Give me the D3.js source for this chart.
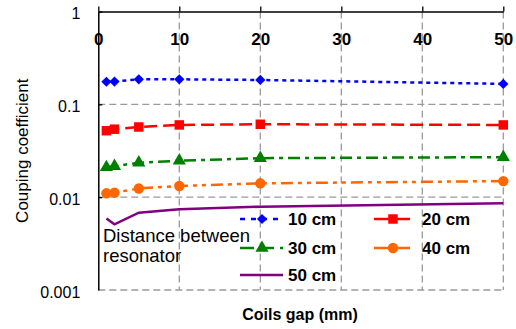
<!DOCTYPE html>
<html>
<head>
<meta charset="utf-8">
<script src="https://cdn.jsdelivr.net/npm/d3@7"></script>
<style>
  body { margin: 0; background: #fff; }
  text { font-family: "Liberation Sans", Arial, sans-serif; }
</style>
</head>
<body>
<div id="chart"></div>
<script>
// data
var gaps = [1, 2, 5, 10, 20, 50];
var k10 = [0.175, 0.176, 0.186, 0.186, 0.183, 0.166];
var k20 = [0.052, 0.054, 0.057, 0.060, 0.061, 0.060];
var k30 = [0.021, 0.0216, 0.0235, 0.0247, 0.0263, 0.027];
var k40 = [0.011, 0.0112, 0.0124, 0.0132, 0.0141, 0.0149];
var k50 = [0.0059, 0.0051, 0.0068, 0.0074, 0.0079, 0.0086];
var seriesNames = ['10 cm', '20 cm', '30 cm', '40 cm', '50 cm'];
var xTicks = [0, 10, 20, 30, 40, 50];
var yTicks = [1, 0.1, 0.01, 0.001];
var yTickLabels = ['1', '0.1', '0.01', '0.001'];

var width = 516, height = 329;
var m = {left: 98.3, right: 503.3, top: 11.5, bottom: 290};

var svg = d3.select('#chart').append('svg')
  .attr('width', width)
  .attr('height', height);

var x = d3.scaleLinear().domain([0, 50]).range([m.left, m.right]);
var y = d3.scaleLog().domain([0.001, 1]).range([m.bottom, m.top]);

// series styling
var styles = [
  {color: '#0000ff', dash: '4,4', symbol: d3.symbolSquare, size: 52, rot: 45},
  {color: '#ff0000', dash: '13,6', symbol: d3.symbolSquare, size: 90, rot: 0},
  {color: '#008000', dash: '12,5,4,5', symbol: d3.symbolTriangle, size: 75, rot: 0},
  {color: '#ff6600', dash: '12,5,4,5,4,5', symbol: d3.symbolCircle, size: 85, rot: 0},
  {color: '#800080', dash: null, symbol: null, size: 0, rot: 0}
];
var values = [k10, k20, k30, k40, k50];

// gridlines
var grid = svg.append('g').attr('class', 'grid')
  .attr('stroke', '#9a9a9a')
  .attr('stroke-width', 1.3)
  .attr('stroke-dasharray', '7,4');

grid.selectAll('line.v')
  .data(xTicks.slice(1))
  .enter().append('line')
    .attr('class', 'v')
    .attr('x1', function(d) { return x(d); })
    .attr('x2', function(d) { return x(d); })
    .attr('y1', m.top)
    .attr('y2', m.bottom);

grid.selectAll('line.h')
  .data(yTicks.slice(1))
  .enter().append('line')
    .attr('class', 'h')
    .attr('x1', m.left)
    .attr('x2', m.right)
    .attr('y1', function(d) { return y(d); })
    .attr('y2', function(d) { return y(d); });

// axes
var xAxis = svg.append('g')
  .attr('transform', 'translate(0,' + m.top + ')')
  .call(d3.axisTop(x).tickValues(xTicks).tickSizeInner(5).tickSizeOuter(0));
xAxis.select('.domain').attr('stroke-width', 1.5);
xAxis.selectAll('.tick line').attr('stroke-width', 1.3);
xAxis.selectAll('text')
  .attr('y', 33)
  .attr('font-size', 17)
  .attr('font-weight', 'bold')
  .attr('font-family', '"Liberation Sans", Arial, sans-serif')
  .attr('fill', '#000');

var yAxis = svg.append('g')
  .attr('transform', 'translate(' + m.left + ',0)')
  .call(d3.axisLeft(y).tickValues(yTicks)
    .tickFormat(function(d, i) { return yTickLabels[i]; })
    .tickSizeInner(-4).tickSizeOuter(0).tickPadding(18));
yAxis.select('.domain').attr('stroke-width', 1.5);
yAxis.selectAll('.tick line').attr('stroke-width', 1.3);
yAxis.selectAll('.tick').filter(function(d) { return d === 0.001; }).select('line').remove();
yAxis.selectAll('text')
  .attr('font-size', 16)
  .attr('dy', '0.45em')
  .attr('font-family', '"Liberation Sans", Arial, sans-serif')
  .attr('fill', '#000');

// lines
var line = d3.line()
  .x(function(d) { return x(d[0]); })
  .y(function(d) { return y(d[1]); });

values.forEach(function(vals, i) {
  var pts = gaps.map(function(g, j) { return [g, vals[j]]; });
  var st = styles[i];
  svg.append('path')
    .datum(pts)
    .attr('fill', 'none')
    .attr('stroke', st.color)
    .attr('stroke-width', 2.5)
    .attr('stroke-dasharray', st.dash)
    .attr('d', line);
  if (st.symbol) {
    svg.append('g').selectAll('path')
      .data(pts)
      .enter().append('path')
        .attr('transform', function(d) {
          return 'translate(' + x(d[0]) + ',' + y(d[1]) + ') rotate(' + st.rot + ')';
        })
        .attr('d', d3.symbol().type(st.symbol).size(st.size))
        .attr('fill', st.color);
  }
});

// legend
var legendPos = [
  {x: 240, y: 219}, {x: 374, y: 219},
  {x: 240, y: 248}, {x: 374, y: 248},
  {x: 240, y: 275}
];
var legend = svg.append('g');
seriesNames.forEach(function(name, i) {
  var p = legendPos[i];
  var st = styles[i];
  var narrow = (i === 1 || i === 3);
  var gItem = legend.append('g').attr('transform', 'translate(' + p.x + ',' + p.y + ')');
  gItem.append('line')
    .attr('x1', 0).attr('x2', narrow ? 36 : 43)
    .attr('y1', 0).attr('y2', 0)
    .attr('stroke', st.color)
    .attr('stroke-width', 2.5)
    .attr('stroke-dasharray', i === 0 ? '5,6' : (i === 2 ? '14,6' : null));
  if (st.symbol) {
    gItem.append('path')
      .attr('transform', 'translate(' + (narrow ? 19 : 22) + ',0) rotate(' + st.rot + ')')
      .attr('d', d3.symbol().type(st.symbol).size(st.size))
      .attr('fill', st.color);
  }
  gItem.append('text')
    .attr('x', 48)
    .attr('y', 6)
    .attr('font-size', 17)
    .attr('font-weight', 'bold')
    .text(name);
});

svg.append('text')
  .attr('x', 103).attr('y', 242)
  .attr('font-size', 18.5)
  .text('Distance between');
svg.append('text')
  .attr('x', 103).attr('y', 262)
  .attr('font-size', 18.5)
  .text('resonator');

// axis titles
svg.append('text')
  .attr('x', 300).attr('y', 320)
  .attr('text-anchor', 'middle')
  .attr('font-size', 16)
  .attr('font-weight', 'bold')
  .text('Coils gap (mm)');

svg.append('text')
  .attr('transform', 'translate(28,' + ((m.top + m.bottom) / 2) + ') rotate(-90)')
  .attr('text-anchor', 'middle')
  .attr('font-size', 17)
  .text('Couping coefficient');
</script>
</body>
</html>
